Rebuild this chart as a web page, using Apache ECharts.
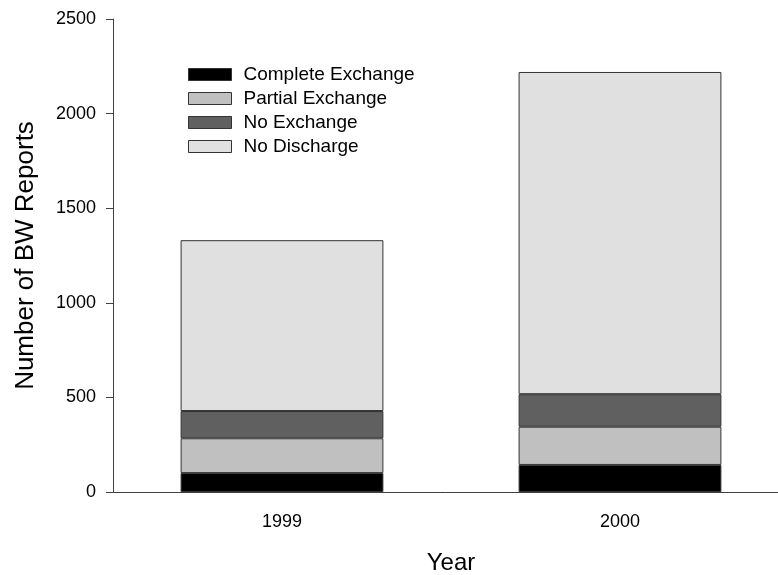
<!DOCTYPE html>
<html>
<head>
<meta charset="utf-8">
<script src="https://cdn.jsdelivr.net/npm/echarts@6/dist/echarts.min.js"></script>
<style>
  html, body { margin: 0; padding: 0; background: #fff; overflow: hidden; }
  #chart { width: 778px; height: 575px; }
</style>
</head>
<body>
<div id="chart"></div>
<script>
// Ballast water reports by exchange category, stacked per year
const years = ['1999', '2000'];
const completeExchange = [100, 143];
const partialExchange = [184, 202];
const noExchange = [144, 172];
const noDischarge = [903, 1703];

const seriesNames = ['Complete Exchange', 'Partial Exchange', 'No Exchange', 'No Discharge'];
const seriesData = [completeExchange, partialExchange, noExchange, noDischarge];
const seriesColors = ['#000000', '#c0c0c0', '#606060', '#e0e0e0'];

const font = 'Liberation Sans, Arial, sans-serif';

const chart = echarts.init(document.getElementById('chart'), null, { renderer: 'canvas', width: 778, height: 575 });

chart.setOption({
  animation: false,
  backgroundColor: '#ffffff',
  textStyle: { fontFamily: font },
  // the plot area runs a little past the right edge of the canvas
  grid: { left: 113, top: 19, width: 676, height: 473, containLabel: false, outerBoundsMode: 'none' },
  legend: {
    orient: 'vertical',
    left: 188,
    top: 65,
    padding: 0,
    icon: 'rect',
    itemWidth: 43,
    itemHeight: 12,
    itemGap: 5,
    selectedMode: false,
    data: seriesNames,
    textStyle: { fontFamily: font, fontSize: 19, color: '#000', padding: [0, 0, 0, 7] },
    itemStyle: { borderColor: '#333', borderWidth: 1 }
  },
  xAxis: {
    type: 'category',
    data: years,
    name: 'Year',
    nameLocation: 'middle',
    nameGap: 59,
    nameTextStyle: { fontFamily: font, fontSize: 24, color: '#000' },
    axisLine: { lineStyle: { color: '#404040', width: 1 } },
    axisTick: { alignWithLabel: true, length: 7, lineStyle: { color: '#000' } },
    axisLabel: { fontFamily: font, fontSize: 18, color: '#000', margin: 21 },
    splitLine: { show: false }
  },
  yAxis: {
    type: 'value',
    min: 0,
    max: 2500,
    interval: 500,
    name: 'Number of BW Reports',
    nameLocation: 'middle',
    nameGap: 74,
    nameTextStyle: { fontFamily: font, fontSize: 26, color: '#000' },
    axisLine: { show: true, lineStyle: { color: '#404040', width: 1 } },
    axisTick: { show: true, length: 7, lineStyle: { color: '#404040' } },
    axisLabel: { fontFamily: font, fontSize: 18, color: '#000', margin: 17, formatter: v => String(v) },
    splitLine: { show: false }
  },
  series: seriesNames.map((name, i) => ({
    name: name,
    type: 'bar',
    stack: 'reports',
    barWidth: '60%',
    data: seriesData[i],
    itemStyle: { color: seriesColors[i], borderColor: '#333', borderWidth: 1 }
  }))
});
</script>
</body>
</html>
